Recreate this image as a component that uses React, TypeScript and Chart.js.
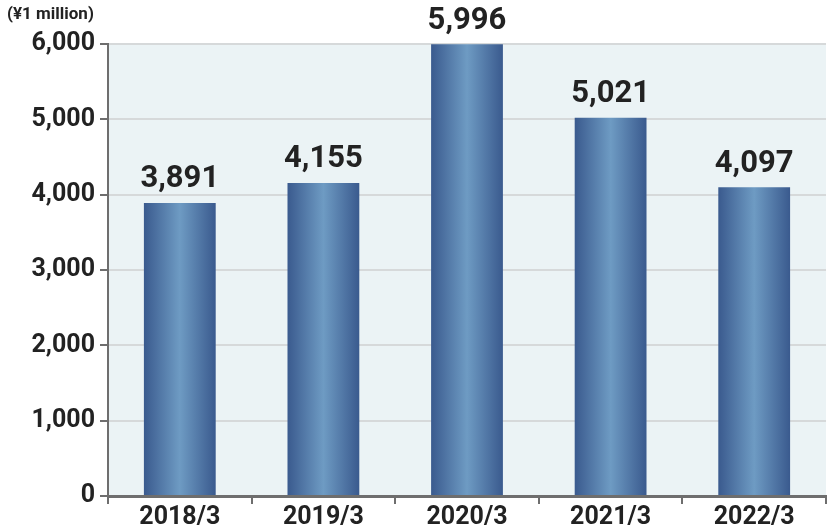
import React, { useEffect, useRef } from "react";
import { Chart, registerables } from "chart.js";

Chart.register(...registerables);

const categories = ["2018/3", "2019/3", "2020/3", "2021/3", "2022/3"];
const values = [3891, 4155, 5996, 5021, 4097];
const unitLabel = "(¥1 million)";
const yTicks = [0, 1000, 2000, 3000, 4000, 5000, 6000];

const FONT = "Roboto, 'Noto Sans', sans-serif";

export default function App() {
  const ref = useRef<HTMLCanvasElement | null>(null);

  useEffect(() => {
    const canvas = ref.current;
    if (!canvas) return;

    const bgPlugin = {
      id: "plotBg",
      beforeDraw(chart: any) {
        const { ctx, chartArea } = chart;
        if (!chartArea) return;
        ctx.save();
        ctx.fillStyle = "#ebf3f5";
        ctx.fillRect(chartArea.left, chartArea.top, chartArea.right - chartArea.left, chartArea.bottom - chartArea.top);
        ctx.restore();
      },
      afterDraw(chart: any) {
        const { ctx } = chart;
        ctx.save();
        ctx.font = `bold 17px ${FONT}`;
        ctx.fillStyle = "#222222";
        ctx.textAlign = "left";
        ctx.textBaseline = "middle";
        ctx.fillText(unitLabel, 7, 15);
        ctx.restore();
      },
    };

    const labelPlugin = {
      id: "valueLabels",
      afterDatasetsDraw(chart: any) {
        const { ctx } = chart;
        const meta = chart.getDatasetMeta(0);
        ctx.save();
        ctx.font = `bold 31px ${FONT}`;
        ctx.fillStyle = "#222222";
        ctx.textAlign = "center";
        ctx.textBaseline = "bottom";
        meta.data.forEach((bar: any, i: number) => {
          ctx.fillText(values[i].toLocaleString("en-US"), bar.x, bar.y - 8);
        });
        ctx.restore();
      },
    };

    const gradientFor = (context: any) => {
      const chart = context.chart;
      const xs = chart.scales?.x;
      if (!chart.chartArea || !xs) return "#4d74a6";
      const cx = xs.getPixelForValue(context.dataIndex);
      const cat = (chart.chartArea.right - chart.chartArea.left) / categories.length;
      const w = cat * 0.5;
      const g = chart.ctx.createLinearGradient(cx - w / 2, 0, cx + w / 2, 0);
      g.addColorStop(0, "#3a5a8e");
      g.addColorStop(0.5, "#6e9bc3");
      g.addColorStop(1, "#3a5a8e");
      return g;
    };

    const chart = new Chart(canvas, {
      type: "bar",
      data: {
        labels: categories,
        datasets: [
          {
            data: values,
            backgroundColor: gradientFor,
            borderWidth: 0,
            barPercentage: 0.5,
            categoryPercentage: 1,
          },
        ],
      },
      options: {
        animation: false,
        responsive: false,
        maintainAspectRatio: false,
        layout: { padding: { top: 44, right: 4, left: 0, bottom: 0 } },
        plugins: { legend: { display: false }, tooltip: { enabled: false } },
        scales: {
          x: {
            grid: {
              display: true,
              drawOnChartArea: false,
              drawTicks: true,
              tickLength: 8,
              color: "#6e6e6e",
              lineWidth: 2,
              offset: true,
            },
            border: { display: true, color: "#6e6e6e", width: 3 },
            ticks: {
              color: "#222222",
              font: { family: FONT, size: 25, weight: "bold" },
              padding: -1,
              maxRotation: 0,
            },
            afterFit(scale: any) {
              scale.height = 34;
            },
          },
          y: {
            min: 0,
            max: 6000,
            afterBuildTicks(scale: any) {
              scale.ticks = yTicks.map((v) => ({ value: v }));
            },
            grid: {
              color: "#d6d9da",
              lineWidth: 2,
              drawTicks: true,
              tickLength: 8,
              tickColor: "#6e6e6e",
            },
            border: { display: true, color: "#6e6e6e", width: 2 },
            ticks: {
              color: "#222222",
              font: { family: FONT, size: 25, weight: "bold" },
              padding: 5,
              callback: (v: any) => Number(v).toLocaleString("en-US"),
            },
            afterFit(scale: any) {
              scale.width = 108;
            },
          },
        },
      },
      plugins: [bgPlugin, labelPlugin],
    });

    return () => chart.destroy();
  }, []);

  return (
    <div style={{ position: "fixed", left: 0, top: 0, width: 830, height: 530, background: "#ffffff" }}>
      <canvas ref={ref} width={830} height={530} style={{ width: 830, height: 530, display: "block" }} />
    </div>
  );
}
